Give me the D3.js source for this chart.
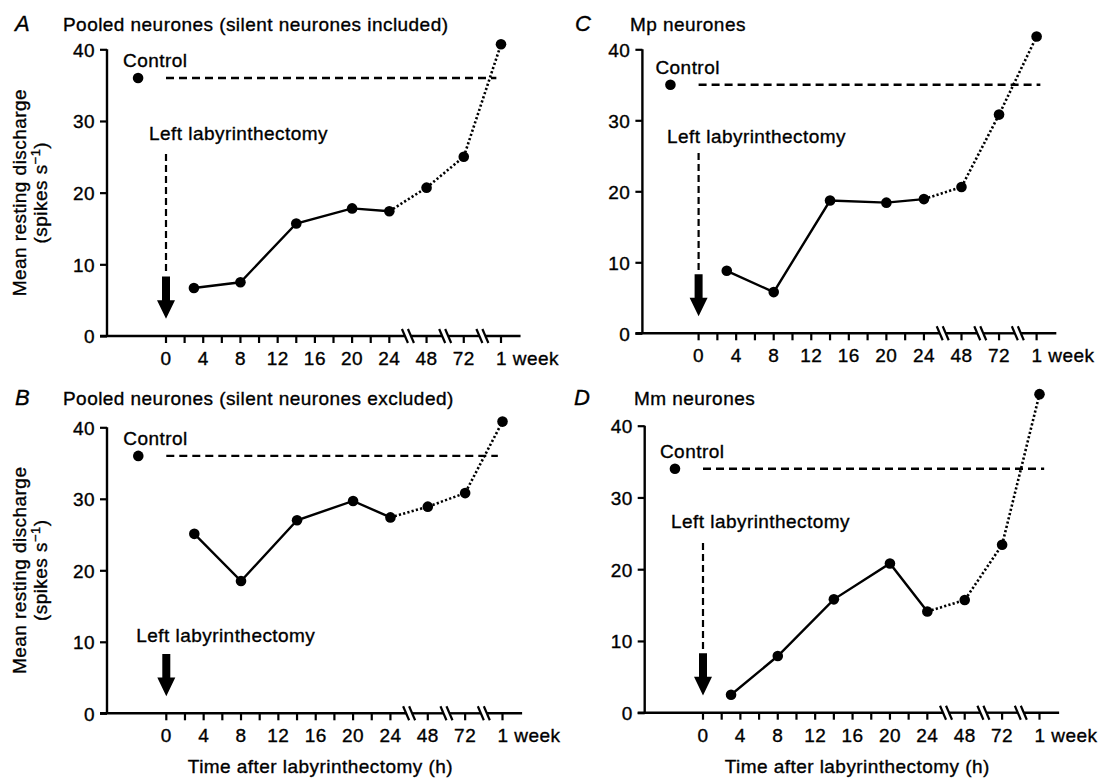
<!DOCTYPE html>
<html>
<head>
<meta charset="utf-8">
<script src="https://cdn.jsdelivr.net/npm/d3@7"></script>
<style>
  body { margin: 0; background: #fff; }
  svg text { font-family: "Liberation Sans", Arial, Helvetica, sans-serif; fill: #000; stroke: #000; stroke-width: 0.35px; }
  .lbl { font-size: 19px; letter-spacing: 0.45px; }
  .letter { font-size: 22px; font-style: italic; }
</style>
</head>
<body>
<div id="d3-container"></div>
<script>
/* CONSTANTS AND GLOBALS */
const width = 1101,
  height = 780,
  radius = 5.3;

/* DATA */
// time of each recording (h); 168 h = 1 week
const timesH = [3, 8, 14, 20, 24, 48, 72, 168];
const valuesA = [6.7, 7.5, 15.7, 17.8, 17.4, 20.7, 25.0, 40.7];
const valuesB = [25.1, 18.5, 27.0, 29.7, 27.4, 28.9, 30.8, 40.8];
const valuesC = [8.8, 5.8, 18.7, 18.4, 18.9, 20.6, 30.8, 41.8];
const valuesD = [2.5, 7.9, 15.8, 20.8, 14.1, 15.7, 23.4, 44.4];
const controls = { A: 36, B: 36, C: 35, D: 34 };
const titles = {
  A: "Pooled neurones (silent neurones included)",
  B: "Pooled neurones (silent neurones excluded)",
  C: "Mp neurones",
  D: "Mm neurones"
};
const xTickHours = [0, 4, 8, 12, 16, 20, 24, 48, 72, 168];
const xTickLabels = ["0", "4", "8", "12", "16", "20", "24", "48", "72", "1 week"];
const xMinorHours = [2, 6, 10, 14, 18, 22];
const yTicks = [0, 10, 20, 30, 40];

// broken time axis: 0-24 h linear, then 48, 72 and 1 week at equal steps
const timePos = d3.scaleLinear().domain([0, 24, 48, 72, 168]).range([0, 24, 28, 32, 36]);
const breaksPos = [26, 30, 34];

/* LAYOUT OF THE FOUR PANELS */
const panels = [
  { id: "A", values: valuesA, axisX: 107, x0: 166, x36: 501, y0: 336, y40: 49.3,
    titleY: 31, letterX: 15, titleX: 63, llDx: -17, llY: 27.3, dashTop: 25.4, dashEnd: 35.5, yLabel: true, xLabel: false },
  { id: "B", values: valuesB, axisX: 107, x0: 166.3, x36: 502.5, y0: 713.3, y40: 427.3,
    titleY: 405, letterX: 15, titleX: 63, llDx: -30, llY: 10.0, dashTop: null, dashEnd: 35.5, yLabel: true, xLabel: true },
  { id: "C", values: valuesC, axisX: 642.4, x0: 698.6, x36: 1036.6, y0: 333.3, y40: 49.3,
    titleY: 31, letterX: 575, titleX: 630, llDx: -31.6, llY: 26.8, dashTop: 25.4, dashEnd: 36.4, yLabel: false, xLabel: false },
  { id: "D", values: valuesD, axisX: 644.7, x0: 703, x36: 1039.5, y0: 712.7, y40: 425.7,
    titleY: 405, letterX: 574, titleX: 634, llDx: -32, llY: 25.7, dashTop: 23.65, dashEnd: 36.5, yLabel: false, xLabel: true }
];

let svg;

function init() {
  svg = d3.select("#d3-container")
    .append("svg")
    .attr("width", width)
    .attr("height", height);

  panels.forEach(drawPanel);
}

function drawPanel(p) {
  const g = svg.append("g").attr("class", "panel panel-" + p.id);

  const xScale = d3.scaleLinear().domain([0, 36]).range([p.x0, p.x36]);
  const yScale = d3.scaleLinear().domain([0, 40]).range([p.y0, p.y40]);
  const x = h => xScale(timePos(h));

  // + AXES
  // y axis line and ticks
  const yAxis = d3.axisLeft(yScale).tickValues(yTicks).tickSize(7).tickPadding(5).tickFormat(d3.format("d"));
  const ya = g.append("g")
    .attr("transform", `translate(${p.axisX},0)`)
    .call(yAxis);
  ya.select(".domain").attr("d", `M0,${yScale(40)}V${yScale(0)}`).attr("stroke-width", 2.4);
  ya.selectAll(".tick line").attr("stroke-width", 2.2);
  ya.selectAll(".tick text").attr("class", "lbl").attr("font-family", null).attr("font-size", null).attr("dy", "0.36em");

  // x axis line, drawn in pieces with the breaks
  const xStart = p.axisX - 7, xEnd = xScale(38.1);
  const segs = [];
  let from = xStart;
  breaksPos.forEach(b => {
    segs.push([from, xScale(b) - 3]);
    from = xScale(b) + 3;
  });
  segs.push([from, xEnd]);
  g.selectAll(".xseg")
    .data(segs)
    .join("line")
    .attr("class", "xseg")
    .attr("x1", d => d[0]).attr("x2", d => d[1])
    .attr("y1", yScale(0)).attr("y2", yScale(0))
    .attr("stroke", "#000").attr("stroke-width", 2.4);

  // break marks
  const bm = [];
  breaksPos.forEach(b => { bm.push(xScale(b) - 3); bm.push(xScale(b) + 3); });
  g.selectAll(".brk")
    .data(bm)
    .join("line")
    .attr("class", "brk")
    .attr("x1", d => d - 3).attr("x2", d => d + 3)
    .attr("y1", yScale(0) - 7).attr("y2", yScale(0) + 7)
    .attr("stroke", "#000").attr("stroke-width", 2.2);

  // x ticks
  g.selectAll(".xtick")
    .data(xTickHours.concat(xMinorHours))
    .join("line")
    .attr("class", "xtick")
    .attr("x1", d => x(d)).attr("x2", d => x(d))
    .attr("y1", yScale(0)).attr("y2", yScale(0) + 7)
    .attr("stroke", "#000").attr("stroke-width", 2.2);

  g.selectAll(".xlab")
    .data(xTickHours)
    .join("text")
    .attr("class", "lbl xlab")
    .attr("x", (d, i) => xTickLabels[i] === "1 week" ? x(d) - 5 : x(d))
    .attr("y", yScale(0) + 22)
    .attr("dy", "0.36em")
    .attr("text-anchor", (d, i) => xTickLabels[i] === "1 week" ? "start" : "middle")
    .text((d, i) => xTickLabels[i]);

  // + TITLES
  g.append("text").attr("class", "letter").attr("x", p.letterX).attr("y", p.titleY).text(p.id);
  g.append("text").attr("class", "lbl").attr("x", p.titleX).attr("y", p.titleY).text(titles[p.id]);

  if (p.yLabel) {
    const cy = yScale(20);
    g.append("text").attr("class", "lbl")
      .attr("transform", `translate(26,${cy}) rotate(-90)`)
      .attr("text-anchor", "middle")
      .text("Mean resting discharge");
    const t2 = g.append("text").attr("class", "lbl")
      .attr("transform", `translate(47,${cy}) rotate(-90)`)
      .attr("text-anchor", "middle");
    t2.append("tspan").text("(spikes s");
    t2.append("tspan").attr("font-size", "13px").attr("dy", "-7").text("\u22121");
    t2.append("tspan").attr("dy", "7").text(")");
  }
  if (p.xLabel) {
    g.append("text").attr("class", "lbl")
      .attr("x", xScale(16.5)).attr("y", 773)
      .attr("text-anchor", "middle")
      .text("Time after labyrinthectomy (h)");
  }

  // + CONTROL
  const cx = x(-3), cyc = yScale(controls[p.id]);
  g.append("line")
    .attr("x1", xScale(0)).attr("x2", xScale(p.dashEnd))
    .attr("y1", cyc).attr("y2", cyc)
    .attr("stroke", "#000").attr("stroke-width", 2.4)
    .attr("stroke-dasharray", "8 5");
  g.append("text").attr("class", "lbl").attr("x", cx - 15).attr("y", cyc - 11).text("Control");
  g.append("circle").attr("cx", cx).attr("cy", cyc).attr("r", radius).attr("fill", "#000");

  // + LESION ARROW
  const ax = xScale(0);
  g.append("text").attr("class", "lbl").attr("x", ax + p.llDx).attr("y", yScale(p.llY)).text("Left labyrinthectomy");
  if (p.dashTop !== null) {
    g.append("line")
      .attr("x1", ax).attr("x2", ax)
      .attr("y1", yScale(p.dashTop)).attr("y2", yScale(8.5))
      .attr("stroke", "#000").attr("stroke-width", 2.2)
      .attr("stroke-dasharray", "7 4");
  }
  g.append("path")
    .attr("d", `M${ax - 4},${yScale(8.3)}H${ax + 4}V${yScale(5.0)}H${ax + 9}L${ax},${yScale(2.4)}L${ax - 9},${yScale(5.0)}H${ax - 4}Z`)
    .attr("fill", "#000");

  // + DATA
  const pts = timesH.map((t, i) => ({ t: t, v: p.values[i] }));
  const line = d3.line().x(d => x(d.t)).y(d => yScale(d.v));
  g.append("path")
    .datum(pts.filter(d => d.t <= 24))
    .attr("d", line)
    .attr("fill", "none").attr("stroke", "#000").attr("stroke-width", 2.4);
  g.append("path")
    .datum(pts.filter(d => d.t >= 24))
    .attr("d", line)
    .attr("fill", "none").attr("stroke", "#000").attr("stroke-width", 2.6)
    .attr("stroke-dasharray", "2.2 2.2");

  g.selectAll(".dot")
    .data(pts)
    .join("circle")
    .attr("class", "dot")
    .attr("cx", d => x(d.t))
    .attr("cy", d => yScale(d.v))
    .attr("r", radius)
    .attr("fill", "#000");
}

init();
</script>
</body>
</html>
